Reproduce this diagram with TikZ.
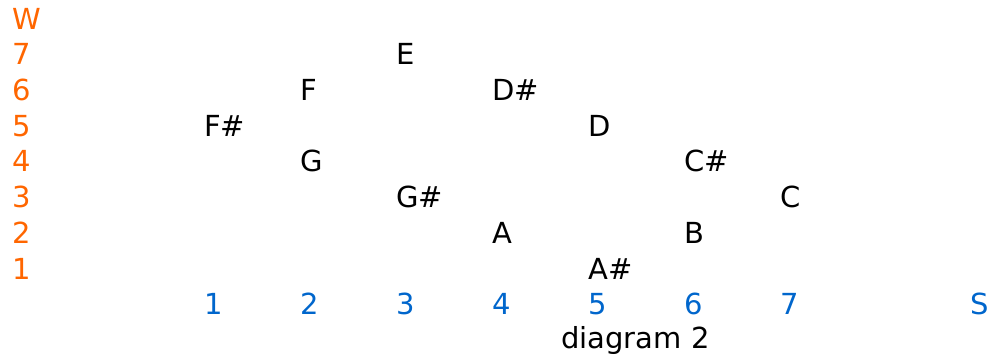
\documentclass[tikz,border=0pt]{standalone}
\usepackage{fontspec}
\setmainfont{DejaVu Sans}
\definecolor{wcol}{HTML}{FF6600}
\definecolor{scol}{HTML}{0066CC}
\tikzset{
  txt/.style={anchor=base west,inner sep=0pt,font=\fontsize{29}{32}\selectfont},
  note/.style={txt,text=black},
  wlab/.style={txt,text=wcol},
  slab/.style={txt,text=scol}
}
\begin{document}
\begin{tikzpicture}[x=1pt,y=-1pt]
\useasboundingbox (0,0) rectangle (992,356);
% W axis
\node[wlab] (w) at (12.5,29) {W};
\node[wlab] (w7) at (12,64) {7};
\node[wlab] (w6) at (12,100) {6};
\node[wlab] (w5) at (12,136) {5};
\node[wlab] (w4) at (12,171.5) {4};
\node[wlab] (w3) at (12,207.5) {3};
\node[wlab] (w2) at (12,243) {2};
\node[wlab] (w1) at (12,279) {1};
% S axis
\node[slab] (s1) at (204,314) {1};
\node[slab] (s2) at (300,314) {2};
\node[slab] (s3) at (396,314) {3};
\node[slab] (s4) at (492,314) {4};
\node[slab] (s5) at (588,314) {5};
\node[slab] (s6) at (684,314) {6};
\node[slab] (s7) at (780,314) {7};
\node[slab] (s) at (970,314) {S};
% notes
\node[note] (E) at (396,64) {E};
\node[note] (F) at (300,100) {F};
\node[note] (Ds) at (492,100) {D\#};
\node[note] (Fs) at (204,136) {F\#};
\node[note] (D) at (588,136) {D};
\node[note] (G) at (300,171.5) {G};
\node[note] (Cs) at (684,171.5) {C\#};
\node[note] (Gs) at (396,207.5) {G\#};
\node[note] (C) at (780,207.5) {C};
\node[note] (A) at (492,243) {A};
\node[note] (B) at (684,243) {B};
\node[note] (As) at (588,279) {A\#};
% caption
\node[note] (cap) at (561,348.5) {diagram 2};
\end{tikzpicture}
\end{document}
